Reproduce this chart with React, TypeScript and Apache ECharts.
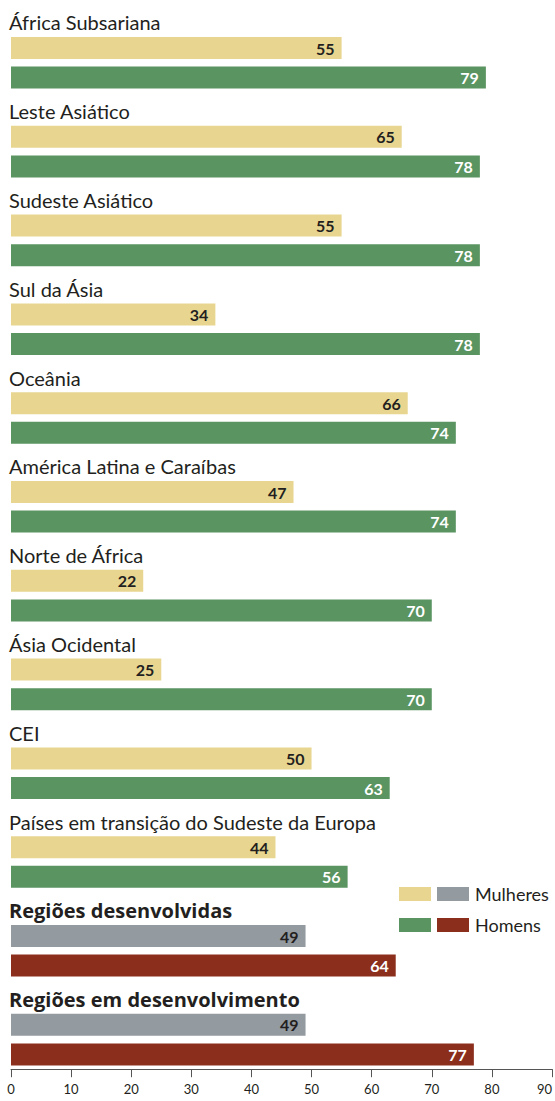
import React, { useEffect, useRef } from "react";
import * as echarts from "echarts";

const regions = [
  "África Subsariana",
  "Leste Asiático",
  "Sudeste Asiático",
  "Sul da Ásia",
  "Oceânia",
  "América Latina e Caraíbas",
  "Norte de África",
  "Ásia Ocidental",
  "CEI",
  "Países em transição do Sudeste da Europa",
  "Regiões desenvolvidas",
  "Regiões em desenvolvimento",
];
const women = [55, 65, 55, 34, 66, 47, 22, 25, 50, 44, 49, 49];
const men = [79, 78, 78, 78, 74, 74, 70, 70, 63, 56, 64, 77];
const isAggregate = [false, false, false, false, false, false, false, false, false, false, true, true];
const legendNames = ["Mulheres", "Homens"];

const FONT = "Lato, 'Open Sans', sans-serif";
const FONT_BOLD = "'Open Sans', Lato, sans-serif";
const C_YELLOW = "#E8D690";
const C_GREEN = "#5A9461";
const C_GRAY = "#939AA0";
const C_RED = "#8B2E1C";
const C_TEXT = "#231F20";

export default function App() {
  const ref = useRef<HTMLDivElement>(null);
  useEffect(() => {
    if (!ref.current) return;
    const chart = echarts.init(ref.current, undefined, { renderer: "svg" });

    const cats: string[] = [];
    regions.forEach((_, i) => {
      cats.push("L" + i, "F" + i, "M" + i);
    });
    const build = (kind: "F" | "M", agg: boolean) =>
      cats.map((c) => {
        const i = Number(c.slice(1));
        if (c[0] !== kind || isAggregate[i] !== agg) return "-";
        return kind === "F" ? women[i] : men[i];
      });

    const mkSeries = (name: string, kind: "F" | "M", agg: boolean, color: string, labelColor: string) => ({
      name,
      type: "bar",
      data: build(kind, agg),
      barWidth: 22,
      barGap: "-100%",
      itemStyle: { color },
      label: {
        show: true,
        position: "insideRight",
        distance: 7,
        color: labelColor,
        fontFamily: FONT,
        fontWeight: "bold",
        fontSize: 16,
      },
    });

    chart.setOption({
      animation: false,
      grid: { left: 11, right: 3, top: 3.6, bottom: 31.8, containLabel: false, outerBoundsMode: "none" },
      xAxis: {
        type: "value",
        min: 0,
        max: 90,
        interval: 10,
        axisLine: { show: true, lineStyle: { color: "#555", width: 1 } },
        axisTick: { show: true, length: 8, lineStyle: { color: "#555" } },
        splitLine: { show: false },
        axisLabel: { color: C_TEXT, fontFamily: FONT, fontSize: 13, margin: 13, alignMaxLabel: "right" },
      },
      yAxis: {
        type: "category",
        data: cats,
        inverse: true,
        axisLine: { show: false },
        axisTick: { show: false },
        splitLine: { show: false },
        axisLabel: {
          inside: true,
          margin: -2,
          interval: 0,
          padding: [8, 0, 0, 0],
          formatter: (v: string) => {
            if (v[0] !== "L") return "";
            const i = Number(v.slice(1));
            return isAggregate[i] ? "{b|" + regions[i] + "}" : "{n|" + regions[i] + "}";
          },
          rich: {
            n: { fontFamily: FONT, fontSize: 20, color: C_TEXT },
            b: { fontFamily: FONT_BOLD, fontSize: 20, fontWeight: "bold", color: C_TEXT },
          },
        },
      },
      series: [
        mkSeries("Mulheres", "F", false, C_YELLOW, C_TEXT),
        mkSeries("Homens", "M", false, C_GREEN, "#FFFFFF"),
        mkSeries("Mulheres ", "F", true, C_GRAY, C_TEXT),
        mkSeries("Homens ", "M", true, C_RED, "#FFFFFF"),
      ],
      graphic: [
        { type: "rect", shape: { x: 399, y: 887, width: 32, height: 14 }, style: { fill: C_YELLOW } },
        { type: "rect", shape: { x: 437, y: 887, width: 32, height: 14 }, style: { fill: C_GRAY } },
        { type: "text", x: 475, y: 894, style: { text: legendNames[0], fill: C_TEXT, fontFamily: FONT, fontSize: 18, verticalAlign: "middle" } },
        { type: "rect", shape: { x: 399, y: 918, width: 32, height: 14 }, style: { fill: C_GREEN } },
        { type: "rect", shape: { x: 437, y: 918, width: 32, height: 14 }, style: { fill: C_RED } },
        { type: "text", x: 475, y: 925, style: { text: legendNames[1], fill: C_TEXT, fontFamily: FONT, fontSize: 18, verticalAlign: "middle" } },
      ],
    });
    return () => chart.dispose();
  }, []);
  return (
    <div
      ref={ref}
      style={{ position: "absolute", left: 0, top: 0, width: 555, height: 1101 }}
    />
  );
}
